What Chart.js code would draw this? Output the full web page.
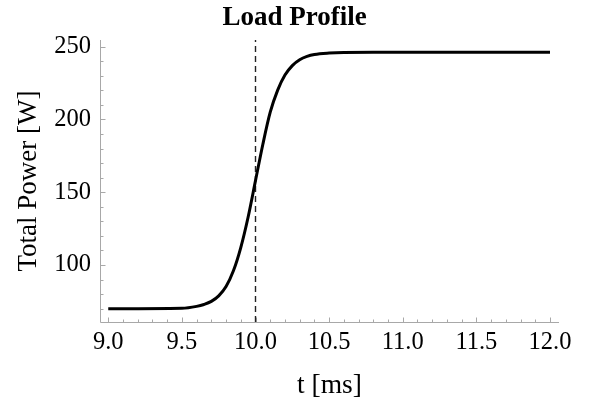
<!DOCTYPE html>
<html lang="en">
<head>
<meta charset="utf-8" />
<title>Load Profile</title>
<style>
  html, body { margin: 0; padding: 0; background: #fff; }
  #loadChart { display: block; }
</style>
</head>
<body>
<canvas id="loadChart" width="589" height="402"></canvas>
<script src="https://cdn.jsdelivr.net/npm/chart.js@4/dist/chart.umd.min.js"></script>
<script>
// values: time [ms] and total power [W]
var tMs = [9.0, 9.5, 9.6, 9.65, 9.7, 9.75, 9.8, 9.85, 9.9, 9.95, 10.0, 10.05, 10.1, 10.15, 10.2, 10.25, 10.3, 10.35, 10.4, 10.5, 10.6, 10.8, 12.0];
var powerW = [70, 70.3, 71.6, 72.9, 75, 78.8, 85.2, 96, 112, 133, 158, 183, 205, 220, 230.5, 237, 241, 243.3, 244.6, 245.6, 246, 246.1, 246.1];
var xTicks = [9.0, 9.5, 10.0, 10.5, 11.0, 11.5, 12.0];
var yTicks = [100, 150, 200, 250];
// dashed marker at t = 10 ms, running over the whole plot range
var markerT = [10.0, 10.0];
var markerP = [60.85, 254.6];

var serif = "'Liberation Serif', 'DejaVu Serif', serif";
var axisGray = "#a8a8a8";

// axes like the original: grey lines, ticks pointing into the plot, minor ticks between
var insideAxes = {
    id: "insideAxes",
    beforeDatasetsDraw: function (chart) {
        var ctx = chart.ctx;
        var a = chart.chartArea;
        var xs = chart.scales.x;
        var ys = chart.scales.y;
        var y0 = Math.round(a.bottom) + 0.5;
        var x0 = Math.round(a.left) + 0.5;
        ctx.save();
        ctx.strokeStyle = axisGray;
        ctx.lineWidth = 1;
        ctx.beginPath();
        ctx.moveTo(x0, y0);
        ctx.lineTo(a.right, y0);
        ctx.moveTo(x0, y0);
        ctx.lineTo(x0, a.top);
        // x ticks every 0.1, major every 0.5
        for (var i = 90; i <= 120; i++) {
            var px = Math.round(xs.getPixelForValue(i / 10)) + 0.5;
            var len = i % 5 === 0 ? 5 : 3;
            ctx.moveTo(px, y0);
            ctx.lineTo(px, y0 - len);
        }
        // y ticks every 10, major every 50
        for (var v = 70; v <= 250; v += 10) {
            var py = Math.round(ys.getPixelForValue(v)) + 0.5;
            var l = v % 50 === 0 ? 5 : 3;
            ctx.moveTo(x0, py);
            ctx.lineTo(x0 + l, py);
        }
        ctx.stroke();
        ctx.restore();
    }
};

new Chart(document.getElementById("loadChart").getContext("2d"), {
    type: "line",
    data: {
        datasets: [
            {
                label: "Total Power",
                data: tMs.map(function (t, i) { return { x: t, y: powerW[i] }; }),
                borderColor: "#000",
                borderWidth: 3,
                pointRadius: 0,
                fill: false,
                cubicInterpolationMode: "monotone",
                order: 1
            },
            {
                label: "t = 10 ms",
                data: markerT.map(function (t, i) { return { x: t, y: markerP[i] }; }),
                borderColor: "#222",
                borderWidth: 1.4,
                borderDash: [6, 4],
                pointRadius: 0,
                fill: false,
                order: 2
            }
        ]
    },
    options: {
        responsive: false,
        animation: false,
        layout: { padding: 0 },
        plugins: {
            legend: { display: false },
            tooltip: { enabled: false },
            title: {
                display: true,
                text: "Load Profile",
                color: "#000",
                font: { family: serif, size: 27, weight: "bold" },
                padding: { top: 2, bottom: 5.6 }
            }
        },
        scales: {
            x: {
                type: "linear",
                min: 8.944,
                max: 12.061,
                grid: { display: false, drawTicks: false },
                border: { display: false },
                afterBuildTicks: function (scale) {
                    scale.ticks = xTicks.map(function (v) { return { value: v }; });
                },
                afterFit: function (scale) {
                    scale.height = 80;
                    scale.paddingLeft = 0;
                    scale.paddingRight = 30;
                },
                ticks: {
                    autoSkip: false,
                    maxRotation: 0,
                    padding: 6,
                    color: "#000",
                    font: { family: serif, size: 24.5 },
                    callback: function (v) { return Number(v).toFixed(1); }
                },
                title: {
                    display: true,
                    text: "t [ms]",
                    color: "#000",
                    font: { family: serif, size: 27.5 },
                    padding: { top: 0, bottom: 0 }
                }
            },
            y: {
                type: "linear",
                min: 60.85,
                max: 254.6,
                grid: { display: false, drawTicks: false },
                border: { display: false },
                afterBuildTicks: function (scale) {
                    scale.ticks = yTicks.map(function (v) { return { value: v }; });
                },
                afterFit: function (scale) { scale.width = 100; },
                ticks: {
                    autoSkip: false,
                    padding: 9,
                    color: "#000",
                    font: { family: serif, size: 24.5 }
                },
                title: {
                    display: true,
                    text: "Total Power [W]",
                    color: "#000",
                    font: { family: serif, size: 27 },
                    padding: { top: 13, bottom: 0 }
                }
            }
        }
    },
    plugins: [insideAxes]
});
</script>
</body>
</html>
